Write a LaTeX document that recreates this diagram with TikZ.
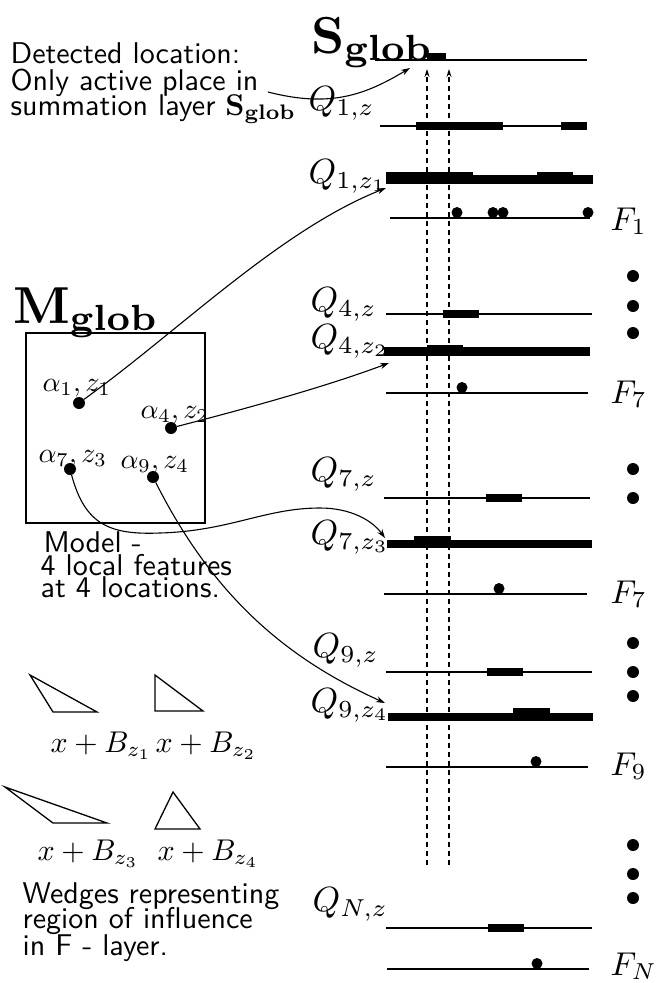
\documentclass[tikz,border=0pt]{standalone}
\usetikzlibrary{arrows.meta}
\begin{document}
\begin{tikzpicture}[x=1pt,y=-1pt,
  ln/.style={line width=1.4pt},
  fdot/.style={circle,fill=black,inner sep=0pt,minimum size=11pt},
  vdot/.style={circle,fill=black,inner sep=0pt,minimum size=12pt},
  conn/.style={line width=1.1pt,-{Stealth[length=9pt,width=6pt]}},
  vline/.style={line width=1.1pt,dash pattern=on 5pt off 4pt,-{Stealth[length=8pt,width=5pt]}},
  stxt/.style={anchor=base west,inner sep=0pt,font=\sffamily,scale=3},
  qlab/.style={anchor=base west,inner sep=0pt,scale=3.5},
  flab/.style={anchor=base west,inner sep=0pt,scale=3.3},
  alab/.style={anchor=base west,inner sep=0pt,scale=2.8},
  blab/.style={anchor=base west,inner sep=0pt,scale=3},
  big/.style={anchor=base west,inner sep=0pt,scale=5.2},
  wedge/.style={line width=1.3pt,line join=miter}
]
\useasboundingbox (0,0) rectangle (657,983);

% ---------- left texts ----------
\node[stxt] (d1) at (10,63) {Detected location:};
\node[stxt] (d2) at (10,90) {Only active place in};
\node[stxt] (d3) at (10,115) {summation layer $\mathbf{S}_{\mathbf{glob}}$};
\node[big] (mg) at (12,323) {$\mathbf{M}_{\mathbf{glob}}$};
\draw[ln] (26,333) rectangle (205,523);
\node[stxt] (m1) at (43,552) {Model -};
\node[stxt] (m2) at (40,575) {4 local features};
\node[stxt] (m3) at (40,597) {at 4 locations.};
\node[stxt] (w1) at (22,903) {Wedges representing};
\node[stxt] (w2) at (22,928) {region of influence};
\node[stxt] (w3) at (22,955) {in F - layer.};

% model points
\node[alab] (l1) at (42,391) {$\alpha_1,z_1$};
\node[alab] (l4) at (140,418) {$\alpha_4,z_2$};
\node[alab] (l7) at (38,462) {$\alpha_7,z_3$};
\node[alab] (l9) at (120,468) {$\alpha_9,z_4$};
\node[vdot] (a1) at (79,403) {};
\node[vdot] (a4) at (171,428) {};
\node[vdot] (a7) at (70,469) {};
\node[vdot] (a9) at (153,477) {};

% wedges
\draw[wedge] (30,675) -- (53,712) -- (97,712) -- cycle;
\draw[wedge] (155,675) -- (155,711) -- (203,711) -- cycle;
\draw[wedge] (5,787) -- (53,823) -- (107,823) -- cycle;
\draw[wedge] (173,792) -- (155,829) -- (200,829) -- cycle;
\node[blab] (b1) at (50,752) {$x+B_{z_1}$};
\node[blab] (b2) at (155,752) {$x+B_{z_2}$};
\node[blab] (b3) at (37,860) {$x+B_{z_3}$};
\node[blab] (b4) at (157,860) {$x+B_{z_4}$};

% ---------- right layers ----------
\node[big] (sg) at (310,53) {$\mathbf{S}_{\mathbf{glob}}$};
\draw[ln] (375,60) -- (587,60);
\fill (427,53) rectangle (446,61);

% Q1
\node[qlab] (q1z) at (308,110) {$Q_{1,z}$};
\draw[ln] (380,126) -- (587,126);
\fill (416,122) rectangle (503,130);
\fill (561,122) rectangle (587,130);
\node[qlab] (q1zi) at (308,183) {$Q_{1,z_1}$};
\fill (386,175) rectangle (593,184);
\fill (386,171.5) rectangle (473,184);
\fill (537,171.5) rectangle (573,184);
\draw[ln] (390,218) -- (590,218);
\foreach \xx in {457,493,503,588} \fill (\xx,212.5) circle (5.5);
\node[flab] (f1) at (610,230) {$F_1$};

% dots
\foreach \yy in {276,306,333,469,498,643,672,696,845,874,898} \fill (633,\yy) circle (6);

% Q4
\node[qlab] (q4z) at (310,311) {$Q_{4,z}$};
\draw[ln] (386,314) -- (592,314);
\fill (443,309.5) rectangle (479,317.5);
\node[qlab] (q4zi) at (310,348) {$Q_{4,z_2}$};
\fill (384,347) rectangle (590,356);
\fill (427,344.5) rectangle (463,356);
\draw[ln] (386,393) -- (588,393);
\fill (462,387.5) circle (5.5);
\node[flab] (f7a) at (610,403) {$F_7$};

% Q7
\node[qlab] (q7z) at (310,481) {$Q_{7,z}$};
\draw[ln] (384,498) -- (590,498);
\fill (486,494) rectangle (522,502);
\node[qlab] (q7zi) at (310,544) {$Q_{7,z_3}$};
\fill (387,539.5) rectangle (592,548);
\fill (414,536) rectangle (451,548);
\draw[ln] (384,594) -- (587,594);
\fill (499,588.5) circle (5.5);
\node[flab] (f7b) at (610,603) {$F_7$};

% Q9
\node[qlab] (q9z) at (312,657) {$Q_{9,z}$};
\draw[ln] (386,672) -- (592,672);
\fill (487,668) rectangle (523,676);
\node[qlab] (q9zi) at (310,712) {$Q_{9,z_4}$};
\fill (388,712.5) rectangle (593,721);
\fill (513,708) rectangle (550,721);
\draw[ln] (386,767) -- (588,767);
\fill (536,761.5) circle (5.5);
\node[flab] (f9) at (610,775) {$F_9$};

% QN
\node[qlab] (qnz) at (312,911) {$Q_{N,z}$};
\draw[ln] (386,928) -- (592,928);
\fill (488,924) rectangle (524,932);
\draw[ln] (387,969) -- (589,969);
\fill (537,963.5) circle (5.5);
\node[flab] (fn) at (610,975) {$F_N$};

% dashed projection lines
\coordinate (vb1) at (427,865);
\coordinate (vt1) at (427,69);
\coordinate (vb2) at (449,865);
\coordinate (vt2) at (449,69);
\draw[vline] (vb1) -- (vt1);
\draw[vline] (vb2) -- (vt2);

% connectors
\coordinate (cs) at (268,92);
\coordinate (ts) at (410,68);
\coordinate (t1) at (386,188);
\coordinate (t4) at (389,363);
\coordinate (t7) at (385,538);
\coordinate (t9) at (385,703);
\draw[conn] (cs) .. controls (330,108) and (365,95) .. (ts);
\draw[conn] (a1) .. controls (180,330) and (280,230) .. (t1);
\draw[conn] (a4) .. controls (260,405) and (330,385) .. (t4);
\draw[conn] (a7) .. controls (85,525) and (110,535) .. (160,533)
  .. controls (230,531) and (265,508) .. (320,508)
  .. controls (350,508) and (372,520) .. (t7);
\draw[conn] (a9) .. controls (215,600) and (290,660) .. (t9);
\end{tikzpicture}
\end{document}
